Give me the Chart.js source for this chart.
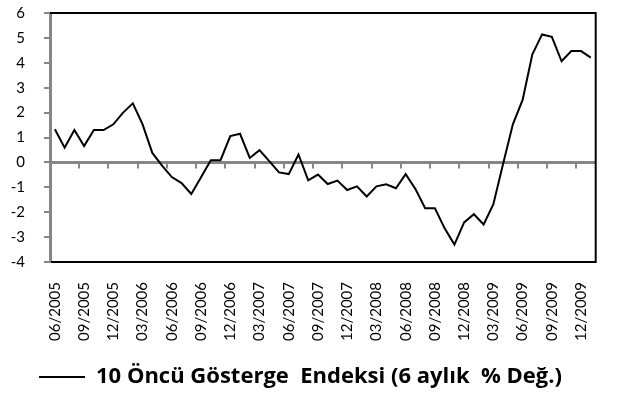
<!DOCTYPE html>
<html>
<head>
<meta charset="utf-8">
<script src="https://cdn.jsdelivr.net/npm/chart.js@4/dist/chart.umd.min.js"></script>
<style>
  html, body { margin: 0; padding: 0; background: #fff; }
  #wrap { width: 621px; height: 417px; }
</style>
</head>
<body>
<div id="wrap"><canvas id="endeksChart"></canvas></div>
<script>
const months = [
  "06/2005", "07/2005", "08/2005", "09/2005", "10/2005", "11/2005", "12/2005",
  "01/2006", "02/2006", "03/2006", "04/2006", "05/2006", "06/2006", "07/2006",
  "08/2006", "09/2006", "10/2006", "11/2006", "12/2006", "01/2007", "02/2007",
  "03/2007", "04/2007", "05/2007", "06/2007", "07/2007", "08/2007", "09/2007",
  "10/2007", "11/2007", "12/2007", "01/2008", "02/2008", "03/2008", "04/2008",
  "05/2008", "06/2008", "07/2008", "08/2008", "09/2008", "10/2008", "11/2008",
  "12/2008", "01/2009", "02/2009", "03/2009", "04/2009", "05/2009", "06/2009",
  "07/2009", "08/2009", "09/2009", "10/2009", "11/2009", "12/2009", "01/2010"
];

// 6 aylık % değişim
const endeks = [
  1.33, 0.59, 1.30, 0.66, 1.30, 1.30, 1.53,
  2.00, 2.37, 1.53, 0.38, -0.13, -0.59, -0.83,
  -1.27, -0.60, 0.09, 0.09, 1.06, 1.15, 0.18,
  0.49, 0.05, -0.40, -0.47, 0.32, -0.72, -0.49,
  -0.87, -0.73, -1.11, -0.96, -1.37, -0.96, -0.88,
  -1.04, -0.47, -1.07, -1.84, -1.84, -2.65, -3.30,
  -2.41, -2.08, -2.49, -1.68, -0.05, 1.53, 2.51,
  4.34, 5.14, 5.04, 4.06, 4.47, 4.47, 4.21
];

const yTicks = [-4, -3, -2, -1, 0, 1, 2, 3, 4, 5, 6];
const labelStep = 3;

// sıfır çizgisi + çeyrek tick'leri, çerçeve
const axisPlugin = {
  id: "axisPlugin",
  beforeDatasetsDraw(chart) {
    const { ctx, chartArea: a, scales: { x, y } } = chart;
    const y0 = y.getPixelForValue(0);
    ctx.save();
    ctx.strokeStyle = "#868686";
    ctx.lineWidth = 3;
    ctx.beginPath();
    ctx.moveTo(a.left, y0);
    ctx.lineTo(a.right, y0);
    ctx.stroke();
    ctx.lineWidth = 2;
    ctx.beginPath();
    for (let i = labelStep; i < months.length; i += labelStep) {
      const px = Math.round(x.getPixelForValue(i - 0.5));
      ctx.moveTo(px, y0);
      ctx.lineTo(px, y0 + 6);
    }
    ctx.stroke();
    ctx.restore();
  },
  afterDraw(chart) {
    const { ctx, chartArea: a } = chart;
    ctx.save();
    ctx.strokeStyle = "#000";
    ctx.lineWidth = 2;
    ctx.beginPath();
    ctx.moveTo(a.left, a.top);
    ctx.lineTo(a.right, a.top);
    ctx.lineTo(a.right, a.bottom);
    ctx.lineTo(a.left + 1, a.bottom);
    ctx.stroke();
    ctx.restore();
  }
};

const ctx = document.getElementById("endeksChart").getContext("2d");
new Chart(ctx, {
  type: "line",
  data: {
    labels: months,
    datasets: [{
      label: "10 Öncü Gösterge  Endeksi (6 aylık  % Değ.)",
      data: endeks,
      borderColor: "#000",
      backgroundColor: "#000",
      borderWidth: 2,
      pointRadius: 0,
      tension: 0,
      fill: false
    }]
  },
  options: {
    responsive: true,
    maintainAspectRatio: false,
    animation: false,
    layout: { padding: { top: 13, right: 20, left: 0, bottom: 19 } },
    plugins: {
      tooltip: { enabled: false },
      legend: {
        position: "bottom",
        labels: {
          usePointStyle: true,
          pointStyle: "line",
          pointStyleWidth: 46,
          color: "#000",
          padding: 9,
          font: { family: "Open Sans", size: 22, weight: "bold" }
        }
      }
    },
    scales: {
      x: {
        offset: true,
        grid: { display: false },
        border: { display: false },
        ticks: {
          autoSkip: false,
          maxRotation: 90,
          minRotation: 90,
          padding: 12,
          color: "#000",
          font: { family: "Lato", size: 15 },
          callback: (v, i) => (i % labelStep === 0 ? months[i] : "")
        },
        afterFit: (s) => { s.height = 95; }
      },
      y: {
        min: -4,
        max: 6,
        afterBuildTicks: (s) => { s.ticks = yTicks.map(v => ({ value: v })); },
        grid: { drawOnChartArea: false, drawTicks: true, tickLength: 6, color: "#868686", lineWidth: 2 },
        border: { color: "#868686", width: 3 },
        ticks: {
          padding: 19,
          color: "#000",
          font: { family: "Lato", size: 15 }
        },
        afterFit: (s) => {
          s.width = 50;
          s.paddingTop = 0;
          s.paddingBottom = 0;
        }
      }
    }
  },
  plugins: [axisPlugin]
});
</script>
</body>
</html>
